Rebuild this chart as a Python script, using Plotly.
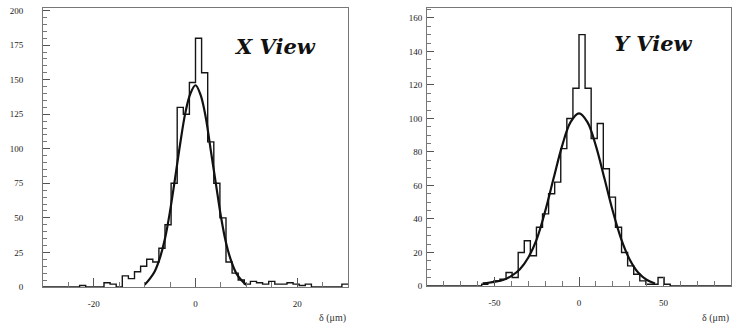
import numpy as np
import plotly.graph_objects as go

# ---------------- data ----------------
# X view: 50 bins over [-30, 30]
x_view_range = [-30, 30]
x_view_counts = [0, 0, 0, 0, 0, 0, 1, 0, 0, 0,
                 3, 2, 0, 8, 6, 11, 15, 20, 18, 28,
                 45, 75, 130, 125, 148, 180, 155, 105, 75, 50,
                 18, 10, 5, 2, 4, 3, 2, 4, 2, 2,
                 3, 2, 1, 2, 0, 0, 0, 0, 0, 2]
x_fit_x = [-10, -9, -8, -7, -6, -5, -4, -3, -2, -1, 0, 1, 2, 3, 4, 5, 6, 7, 8, 9, 10]
x_fit_y = [1.5, 5.8, 11.4, 21, 35, 55, 79, 104, 126, 140, 146, 139, 123, 99, 75, 51, 32, 19, 10, 5, 1.5]

# Y view: 50 bins over [-90, 90]
y_view_range = [-90, 90]
y_view_counts = [0, 0, 0, 0, 0, 0, 0, 0, 0, 1,
                 2, 3, 4, 8, 5, 20, 27, 18, 35, 43,
                 55, 62, 82, 100, 118, 150, 118, 88, 97, 70,
                 53, 35, 20, 12, 7, 3, 1, 1, 5, 1,
                 0, 0, 0, 0, 0, 0, 0, 0, 0, 0]
y_fit_x = [-57, -50, -45, -40, -35, -30, -25, -20, -15, -10, -5, 0, 5, 10, 15, 20, 25, 30, 35, 40, 45]
y_fit_y = [1.5, 2.5, 3.5, 6, 10, 17, 28, 44.7, 64.4, 83.6, 97.8, 103, 97.8, 83.6, 64.4, 44.7, 28, 15.8, 8, 3.7, 1.5]

x_ticks_left = [-20, 0, 20]
y_ticks_left = [0, 25, 50, 75, 100, 125, 150, 175, 200]
x_ticks_right = [-50, 0, 50]
y_ticks_right = [0, 20, 40, 60, 80, 100, 120, 140, 160]

# ---------------- figure ----------------
fig = go.Figure()

def step_trace(counts, rng, xa, ya):
    edges = np.linspace(rng[0], rng[1], len(counts) + 1)
    ys = list(counts) + [counts[-1]]
    return go.Scatter(x=edges, y=ys, mode="lines", line=dict(shape="hv", color="#151515", width=1.4),
                      xaxis=xa, yaxis=ya, showlegend=False, hoverinfo="skip")

fig.add_trace(step_trace(x_view_counts, x_view_range, "x", "y"))
fig.add_trace(go.Scatter(x=x_fit_x, y=x_fit_y, mode="lines",
                         line=dict(shape="spline", color="#111", width=2.2),
                         xaxis="x", yaxis="y", showlegend=False, hoverinfo="skip"))
fig.add_trace(step_trace(y_view_counts, y_view_range, "x2", "y2"))
fig.add_trace(go.Scatter(x=y_fit_x, y=y_fit_y, mode="lines",
                         line=dict(shape="spline", color="#111", width=2.2),
                         xaxis="x2", yaxis="y2", showlegend=False, hoverinfo="skip"))

tickfont = dict(family="Liberation Serif", size=9, color="#222")
line_col = "#777"

def xaxis_cfg(domain, rng, ticks, minor, anchor):
    return dict(domain=domain, range=rng, tickvals=ticks, ticktext=[str(t) for t in ticks],
                ticks="inside", ticklen=9, tickcolor="#555", tickwidth=1,
                minor=dict(dtick=minor, ticks="inside", ticklen=5, tickcolor="#777", tickwidth=1,
                           tick0=0, showgrid=False),
                showline=True, mirror=True, linecolor=line_col, linewidth=1,
                showgrid=False, zeroline=False, tickfont=tickfont, anchor=anchor,
                ticklabelstandoff=8)

def yaxis_cfg(domain, rng, ticks, minor, anchor, standoff):
    return dict(domain=domain, range=rng, tickvals=ticks, ticktext=[str(t) for t in ticks],
                ticks="inside", ticklen=7, tickcolor="#555", tickwidth=1,
                minor=dict(dtick=minor, ticks="inside", ticklen=3.5, tickcolor="#777", tickwidth=1,
                           tick0=0, showgrid=False),
                showline=True, mirror=True, linecolor=line_col, linewidth=1,
                showgrid=False, zeroline=False, tickfont=tickfont, anchor=anchor,
                ticklabelstandoff=standoff)

fig.update_layout(
    width=736, height=335,
    margin=dict(l=0, r=0, t=0, b=0),
    paper_bgcolor="white", plot_bgcolor="white",
    xaxis=xaxis_cfg([43/736, 348/736], x_view_range, x_ticks_left, 5, "y"),
    yaxis=yaxis_cfg([1-291/335, 1-6/335], [0, 202], y_ticks_left, 5, "x", 17),
    xaxis2=xaxis_cfg([427/736, 731/736], y_view_range, x_ticks_right, 10, "y2"),
    yaxis2=yaxis_cfg([1-290/335, 1-6/335], [0, 166], y_ticks_right, 5, "x2", 2),
    annotations=[
        dict(text="<b><i>X View</i></b>", x=275/736, y=1-45/335, xref="paper", yref="paper",
             xanchor="center", yanchor="middle",
             showarrow=False, font=dict(family="DejaVu Serif", size=21, color="#111")),
        dict(text="<b><i>Y View</i></b>", x=653/736, y=1-42/335, xref="paper", yref="paper",
             xanchor="center", yanchor="middle",
             showarrow=False, font=dict(family="DejaVu Serif", size=21, color="#111")),
        dict(text="δ (μm)", x=348/736, y=1-323/335, xref="paper", yref="paper",
             xanchor="right", yanchor="middle",
             showarrow=False, font=dict(family="Liberation Serif", size=10, color="#333")),
        dict(text="δ (μm)", x=731/736, y=1-323/335, xref="paper", yref="paper",
             xanchor="right", yanchor="middle",
             showarrow=False, font=dict(family="Liberation Serif", size=10, color="#333")),
    ],
)

fig.write_html("out.html", config={"displayModeBar": False},
               post_script="document.body.style.margin='0';document.body.style.padding='0';")
